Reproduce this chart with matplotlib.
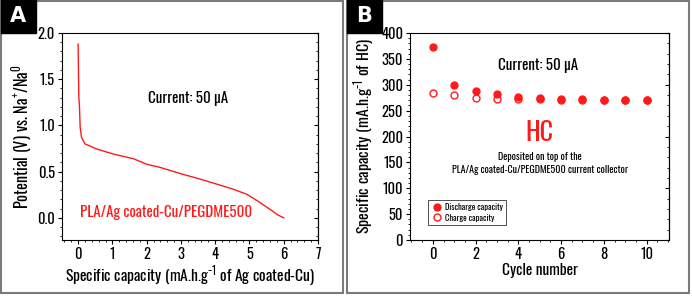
import matplotlib
matplotlib.use("Agg")
import matplotlib.pyplot as plt
from matplotlib import font_manager as fm
from matplotlib.patches import Rectangle

# narrow font close to the condensed face of the figure
font = 'DejaVu Sans'
for name in ['Oswald', 'Pathway Gothic One', 'Antonio', 'Barlow Condensed']:
    try:
        fm.findfont(name, fallback_to_default=False)
        font = name
        break
    except ValueError:
        pass
plt.rcParams['font.family'] = [font, 'DejaVu Sans']
plt.rcParams['mathtext.fontset'] = 'custom'
plt.rcParams['mathtext.rm'] = font
plt.rcParams['mathtext.it'] = font
plt.rcParams['mathtext.bf'] = font

# panel A: potential profile
cap_a = [0.0, 0.02, 0.04, 0.06, 0.10, 0.20, 0.54, 1.03, 1.61, 2.0, 2.39, 2.97,
         3.55, 4.04, 4.52, 4.91, 5.25, 5.59, 5.83, 6.0]
pot_a = [1.88, 1.32, 1.20, 0.98, 0.87, 0.80, 0.745, 0.69, 0.64, 0.58, 0.546, 0.48,
         0.42, 0.365, 0.31, 0.257, 0.18, 0.094, 0.03, 0.0]

# panel B: cycling
cycles = [0, 1, 2, 3, 4, 5, 6, 7, 8, 9, 10]
discharge = [372, 300, 287, 282, 277, 275, 273, 273, 271, 271, 271]
charge = [285, 281, 274, 273, 273, 273, 271, 271, 270, 270, 270]

red = '#ff1a1a'
fig = plt.figure(figsize=(6.92, 2.97), dpi=100)

# panel frames and letter boxes
W, H = 692, 297
for x0, x1, letter in [(1, 343, 'A'), (347, 689, 'B')]:
    fig.patches.append(Rectangle((x0 / W, 4 / H), (x1 - x0) / W, (H - 5) / H,
                                 transform=fig.transFigure, fill=False,
                                 edgecolor='#7a7a7a', lw=1.5))
    fig.patches.append(Rectangle((x0 / W, (H - 33) / H), 35 / W, 33 / H,
                                 transform=fig.transFigure, color='black'))
    fig.text((x0 + 17) / W, (H - 16) / H, letter, color='white', fontsize=15,
             fontweight='bold', ha='center', va='center', family='DejaVu Sans')


def style(ax, size):
    ax.tick_params(which='both', direction='out', top=False, right=False, labelsize=size, pad=2)
    ax.tick_params(which='major', length=3)
    ax.tick_params(which='minor', length=1.5)
    ax.minorticks_on()
    sec = ax.secondary_yaxis('right')
    sec.tick_params(direction='in', labelright=False, length=3)
    sec.minorticks_on()
    sec.tick_params(which='minor', direction='in', length=1.5)
    for s in ax.spines.values():
        s.set_linewidth(0.8)


def build(tick_size):
    axA = fig.add_axes([62 / W, 57 / H, 256 / W, 207 / H])
    axA.plot(cap_a, pot_a, color=red, lw=1)
    axA.set_xlim(-0.47, 7)
    axA.set_ylim(-0.24, 2.0)
    axA.set_xticks(range(0, 8))
    axA.set_yticks([0.0, 0.5, 1.0, 1.5, 2.0])
    style(axA, tick_size)

    axB = fig.add_axes([410 / W, 57 / H, 259 / W, 207 / H])
    axB.plot(cycles, discharge, 'o', color=red, ms=5, label='Discharge capacity')
    axB.plot(cycles, charge, 'o', mfc='none', mec=red, mew=1, ms=5, label='Charge capacity')
    axB.set_xlim(-1.07, 11.05)
    axB.set_ylim(0, 400)
    axB.set_xticks(range(0, 11, 2))
    axB.set_yticks(range(0, 401, 50))
    style(axB, tick_size)
    return axA, axB


axA, axB = build(9.5)
fig.canvas.draw()
w = axA.get_yticklabels()[-1].get_window_extent(fig.canvas.get_renderer()).width
tick_size = 9.5 * 17 / w
axA.remove()
axB.remove()
axA, axB = build(tick_size)

xlA = axA.set_xlabel('Specific capacity (mA.h.g$^{-1}$ of Ag coated-Cu)', fontsize=12.5, labelpad=1)
ylA = axA.set_ylabel('Potential (V) vs. Na$^{+}$/Na$^{0}$', fontsize=12.5, labelpad=3)
curA = axA.text(3.2, 1.29, 'Current: 50 µA', fontsize=11, ha='center', va='center')
plaA = axA.text(0.06, 0.06, 'PLA/Ag coated-Cu/PEGDME500', color=red, fontsize=12.5,
                ha='left', va='center')

xlB = axB.set_xlabel('Cycle number', fontsize=12.5, labelpad=1)
ylB = axB.set_ylabel('Specific capacity (mA.h.g$^{-1}$ of HC)', fontsize=12.5, labelpad=3)
curB = axB.text(4.94, 338, 'Current: 50 µA', fontsize=11, ha='center', va='center')
hc = axB.text(5.0, 206, 'HC', color=red, fontsize=30, ha='center', va='center')
dep = axB.text(5.0, 148, 'Deposited on top of the\nPLA/Ag coated-Cu/PEGDME500 current collector',
               fontsize=8, ha='center', va='center', linespacing=1.3)
leg = axB.legend(loc='lower left', bbox_to_anchor=(0.05, 0.05), fontsize=7, frameon=True,
                 fancybox=False, edgecolor='black', handletextpad=0.3, borderpad=0.3,
                 labelspacing=0.3, handlelength=1.2)
leg.get_frame().set_linewidth(0.6)

# scale text sizes so their lengths match the reference (pixels)
targets = [(xlA, 250, 0), (ylA, 145, 1), (xlB, 76, 0), (ylB, 196, 1),
           (curA, 80, 0), (curB, 80, 0), (plaA, 172, 0), (hc, 28, 0), (dep, 176, 0)]
targets += [(leg.get_texts()[0], 58, 0)]
for _ in range(2):
    fig.canvas.draw()
    r = fig.canvas.get_renderer()
    for t, px, vert in targets:
        bb = t.get_window_extent(r)
        cur = bb.height if vert else bb.width
        t.set_fontsize(t.get_fontsize() * px / cur)
leg.get_texts()[1].set_fontsize(leg.get_texts()[0].get_fontsize())

fig.savefig('out.png', dpi=100)
